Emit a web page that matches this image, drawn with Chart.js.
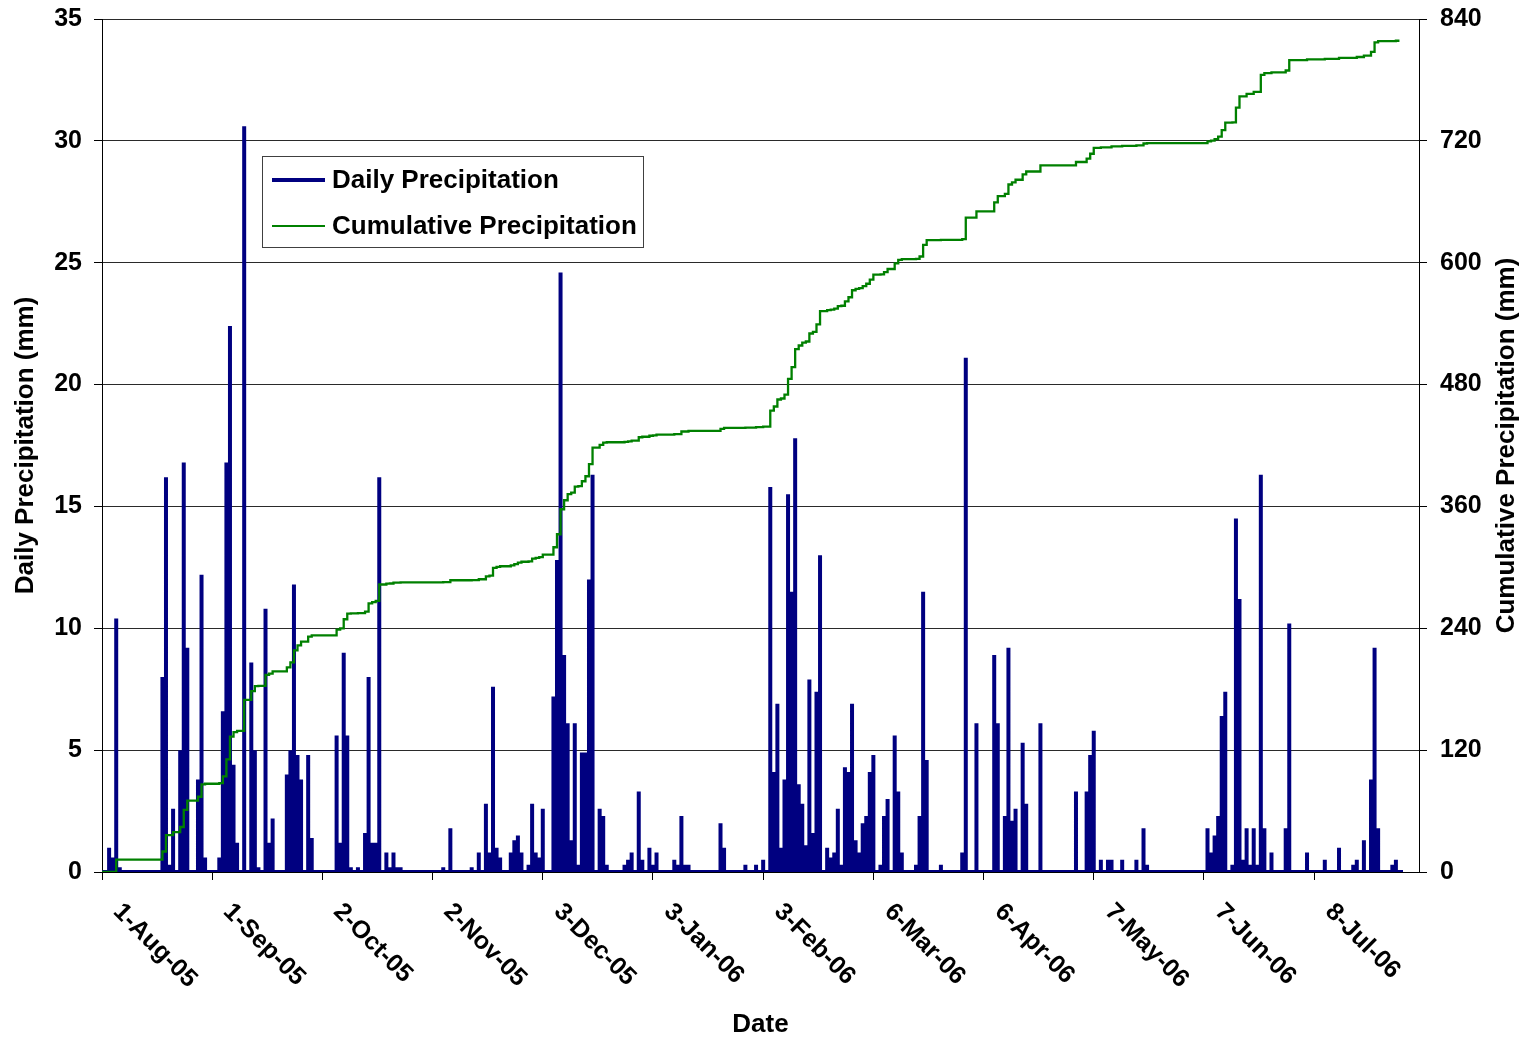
<!DOCTYPE html>
<html>
<head>
<meta charset="utf-8">
<title>Daily and Cumulative Precipitation</title>
<script src="https://cdn.jsdelivr.net/npm/chart.js@4.4.1/dist/chart.umd.min.js"></script>
<style>
  html, body { margin: 0; padding: 0; background: #ffffff; }
  #chart-container { position: relative; width: 1529px; height: 1041px; }
</style>
</head>
<body>
<div id="chart-container"><canvas id="rainChart"></canvas></div>
<script>
// Day 0 is 1-Aug-05; axis labels every 31 days
const tickLabels = ['1-Aug-05', '1-Sep-05', '2-Oct-05', '2-Nov-05', '3-Dec-05', '3-Jan-06',
                    '3-Feb-06', '6-Mar-06', '6-Apr-06', '7-May-06', '7-Jun-06', '8-Jul-06'];
const tickStep = 31;
const lastDay = 366;

// wet days only: [day, mm]; every other day is 0
const dailyRain = [
  [2, 1.0], [3, 0.6], [4, 10.4], [5, 0.2], [17, 8.0], [18, 16.2], [19, 0.3], [20, 2.6],
  [22, 5.0], [23, 16.8], [24, 9.2], [27, 3.8], [28, 12.2], [29, 0.6], [33, 0.6], [34, 6.6],
  [35, 16.8], [36, 22.4], [37, 4.4], [38, 1.2], [40, 30.6], [42, 8.6], [43, 5.0], [44, 0.2],
  [46, 10.8], [47, 1.2], [48, 2.2], [52, 4.0], [53, 5.0], [54, 11.8], [55, 4.8], [56, 3.8],
  [58, 4.8], [59, 1.4], [66, 5.6], [67, 1.2], [68, 9.0], [69, 5.6], [70, 0.2], [72, 0.2],
  [74, 1.6], [75, 8.0], [76, 1.2], [77, 1.2], [78, 16.2], [80, 0.8], [81, 0.2], [82, 0.8],
  [83, 0.2], [84, 0.2], [96, 0.2], [98, 1.8], [104, 0.2], [106, 0.8], [108, 2.8], [109, 0.8],
  [110, 7.6], [111, 1.0], [112, 0.6], [115, 0.8], [116, 1.3], [117, 1.5], [118, 0.8], [120, 0.3],
  [121, 2.8], [122, 0.8], [123, 0.6], [124, 2.6], [127, 7.2], [128, 12.8], [129, 24.6], [130, 8.9],
  [131, 6.1], [132, 1.3], [133, 6.1], [134, 0.3], [135, 4.9], [136, 4.9], [137, 12.0], [138, 16.3],
  [140, 2.6], [141, 2.3], [142, 0.3], [147, 0.3], [148, 0.5], [149, 0.8], [151, 3.3], [152, 0.5],
  [154, 1.0], [155, 0.3], [156, 0.8], [161, 0.5], [162, 0.3], [163, 2.3], [164, 0.3], [165, 0.3],
  [174, 2.0], [175, 1.0], [181, 0.3], [184, 0.3], [186, 0.5], [188, 15.8], [189, 4.1], [190, 6.9],
  [191, 1.0], [192, 3.8], [193, 15.5], [194, 11.5], [195, 17.8], [196, 3.6], [197, 2.8], [198, 1.1],
  [199, 7.9], [200, 1.6], [201, 7.4], [202, 13.0], [204, 1.0], [205, 0.6], [206, 0.8], [207, 2.6],
  [208, 0.3], [209, 4.3], [210, 4.1], [211, 6.9], [212, 1.3], [213, 0.8], [214, 2.0], [215, 2.3],
  [216, 4.1], [217, 4.8], [219, 0.3], [220, 2.3], [221, 3.0], [223, 5.6], [224, 3.3], [225, 0.8],
  [229, 0.3], [230, 2.3], [231, 11.5], [232, 4.6], [236, 0.3], [242, 0.8], [243, 21.1], [246, 6.1],
  [251, 8.9], [252, 6.1], [254, 2.3], [255, 9.2], [256, 2.1], [257, 2.6], [259, 5.3], [260, 2.8],
  [264, 6.1], [274, 3.3], [277, 3.3], [278, 4.8], [279, 5.8], [281, 0.5], [283, 0.5], [284, 0.5],
  [287, 0.5], [291, 0.5], [293, 1.8], [294, 0.3], [311, 1.8], [312, 0.8], [313, 1.5], [314, 2.3],
  [315, 6.4], [316, 7.4], [318, 0.3], [319, 14.5], [320, 11.2], [321, 0.5], [322, 1.8], [323, 0.3],
  [324, 1.8], [325, 0.3], [326, 16.3], [327, 1.8], [329, 0.8], [333, 1.8], [334, 10.2], [339, 0.8],
  [344, 0.5], [348, 1.0], [352, 0.3], [353, 0.5], [355, 1.3], [357, 3.8], [358, 9.2], [359, 1.8],
  [363, 0.3], [364, 0.5]
];

// running total read at each step: [day, mm]
const cumulativeRain = [
  [0, 0], [4, 12.2], [17, 20.2], [18, 36.4], [20, 39.3], [22, 44.3], [23, 61.1], [24, 70.3],
  [27, 74.1], [28, 86.3], [29, 86.9], [33, 87.5], [34, 94.1], [35, 110.9], [36, 133.3], [37, 137.7],
  [38, 138.9], [40, 169.5], [42, 178.1], [43, 183.1], [44, 183.3], [46, 194.1], [47, 195.3], [48, 197.5],
  [52, 201.5], [53, 206.5], [54, 218.3], [55, 223.1], [56, 226.9], [58, 231.7], [59, 233.1], [66, 238.7],
  [67, 239.9], [68, 248.9], [69, 254.5], [70, 254.7], [72, 254.9], [74, 256.5], [75, 264.5], [76, 265.7],
  [77, 266.9], [78, 283.1], [80, 283.9], [81, 284.1], [82, 284.9], [84, 285.3], [96, 285.5], [98, 287.3],
  [104, 287.5], [106, 288.3], [108, 291.1], [109, 291.9], [110, 299.5], [111, 300.5], [112, 301.1], [115, 301.9],
  [116, 303.2], [117, 304.7], [118, 305.5], [120, 305.8], [121, 308.6], [122, 309.4], [123, 310.0], [124, 312.6],
  [127, 319.8], [128, 332.6], [129, 357.2], [130, 366.1], [131, 372.2], [132, 373.5], [133, 379.6], [134, 379.9],
  [135, 384.8], [136, 389.7], [137, 401.7], [138, 418.0], [140, 420.6], [141, 422.9], [142, 423.2], [147, 423.5],
  [148, 424.0], [149, 424.8], [151, 428.1], [152, 428.6], [154, 429.6], [155, 429.9], [156, 430.7], [161, 431.2],
  [163, 433.8], [165, 434.4], [174, 436.4], [175, 437.4], [181, 437.7], [184, 438.0], [186, 438.5], [188, 454.3],
  [189, 458.4], [190, 465.3], [191, 466.3], [192, 470.1], [193, 485.6], [194, 497.1], [195, 514.9], [196, 518.5],
  [197, 521.3], [198, 522.4], [199, 530.3], [200, 531.9], [201, 539.3], [202, 552.3], [204, 553.3], [205, 553.9],
  [206, 554.7], [207, 557.3], [208, 557.6], [209, 561.9], [210, 566.0], [211, 572.9], [212, 574.2], [213, 575.0],
  [214, 577.0], [215, 579.3], [216, 583.4], [217, 588.2], [219, 588.5], [220, 590.8], [221, 593.8], [223, 599.4],
  [224, 602.7], [225, 603.5], [229, 603.8], [230, 606.1], [231, 617.6], [232, 622.2], [236, 622.5], [242, 623.3],
  [243, 644.4], [246, 650.5], [251, 659.4], [252, 665.5], [254, 667.8], [255, 677.0], [256, 679.1], [257, 681.7],
  [259, 687.0], [260, 689.8], [264, 695.9], [274, 699.2], [277, 702.5], [278, 707.3], [279, 713.1], [281, 713.6],
  [284, 714.6], [287, 715.1], [291, 715.6], [293, 717.4], [294, 717.7], [311, 719.5], [312, 720.3], [313, 721.8],
  [314, 724.1], [315, 730.5], [316, 737.9], [318, 738.2], [319, 752.7], [320, 763.9], [322, 766.2], [324, 768.3],
  [326, 784.9], [327, 786.7], [329, 787.5], [333, 789.3], [334, 799.5], [339, 800.3], [344, 800.8], [348, 801.8],
  [353, 802.6], [355, 803.9], [357, 807.7], [358, 816.9], [359, 818.3], [364, 818.6], [365, 818.6]
];

const FONT_FAMILY = '"Liberation Sans", Arial, sans-serif';
const NAVY = '#000080';
const GREEN = '#008000';

// each wet day becomes a vertical stroke up from the zero line
const rainByDay = new Map(dailyRain);
const dailyPoints = [];
for (let d = 0; d <= lastDay; d++) {
    const mm = rainByDay.get(d) || 0;
    if (mm > 0) {
        dailyPoints.push({ x: d, y: 0 }, { x: d, y: mm }, { x: d, y: 0 });
    } else {
        dailyPoints.push({ x: d, y: 0 });
    }
}

// rotated date labels, axis titles and the boxed legend
const decorations = {
    id: 'decorations',
    afterDraw(chart) {
        const { ctx, chartArea, scales } = chart;
        ctx.save();
        ctx.fillStyle = '#000';

        // date labels slanting down to the right
        ctx.font = 'bold 25px ' + FONT_FAMILY;
        ctx.textAlign = 'left';
        ctx.textBaseline = 'middle';
        tickLabels.forEach((label, i) => {
            const px = scales.x.getPixelForValue(i * tickStep);
            ctx.save();
            ctx.translate(px + 15, chartArea.bottom + 36);
            ctx.rotate(Math.PI / 4);
            ctx.fillText(label, 0, 0);
            ctx.restore();
        });

        // axis titles
        ctx.font = 'bold 26px ' + FONT_FAMILY;
        ctx.textAlign = 'center';
        ctx.fillText('Date', (chartArea.left + chartArea.right) / 2, 1025);
        const midY = (chartArea.top + chartArea.bottom) / 2;
        [[26, 'Daily Precipitation (mm)'], [1507, 'Cumulative Precipitation (mm)']].forEach(([tx, text]) => {
            ctx.save();
            ctx.translate(tx, midY);
            ctx.rotate(-Math.PI / 2);
            ctx.fillText(text, 0, 0);
            ctx.restore();
        });

        // legend box
        ctx.fillStyle = '#fff';
        ctx.fillRect(262, 156, 381, 91);
        ctx.strokeStyle = '#404040';
        ctx.lineWidth = 1;
        ctx.strokeRect(262.5, 156.5, 381, 91);
        const items = [
            { label: 'Daily Precipitation', color: NAVY, width: 4, y: 180 },
            { label: 'Cumulative Precipitation', color: GREEN, width: 2, y: 226 }
        ];
        ctx.textAlign = 'left';
        items.forEach(item => {
            ctx.strokeStyle = item.color;
            ctx.lineWidth = item.width;
            ctx.beginPath();
            ctx.moveTo(272, item.y);
            ctx.lineTo(325, item.y);
            ctx.stroke();
            ctx.fillStyle = '#000';
            ctx.fillText(item.label, 332, item.y + 1);
        });
        ctx.restore();
    }
};

const tickFont = { family: FONT_FAMILY, size: 25, weight: 'bold' };

// fixed axis box sizes so the plot area sits where the layout needs it
function fitVertical(width) {
    return scale => {
        scale.width = width;
        scale.paddingTop = 0;
        scale.paddingBottom = 0;
    };
}

new Chart(document.getElementById('rainChart'), {
    type: 'line',
    data: {
        datasets: [
            {
                label: 'Cumulative Precipitation',
                data: cumulativeRain.map(([d, mm]) => ({ x: d, y: mm })),
                yAxisID: 'yCum',
                borderColor: GREEN,
                borderWidth: 2.3,
                pointRadius: 0,
                stepped: 'before',
                order: 1
            },
            {
                label: 'Daily Precipitation',
                data: dailyPoints,
                yAxisID: 'yDaily',
                borderColor: NAVY,
                borderWidth: 4,
                borderCapStyle: 'butt',
                borderJoinStyle: 'miter',
                pointRadius: 0,
                tension: 0,
                order: 2
            }
        ]
    },
    options: {
        responsive: true,
        maintainAspectRatio: false,
        animation: false,
        events: [],
        layout: { padding: { top: 19, right: 0, bottom: 0, left: 0 } },
        plugins: {
            legend: { display: false },
            tooltip: { enabled: false }
        },
        scales: {
            x: {
                type: 'linear',
                min: 0,
                max: 370.5,
                afterBuildTicks: scale => {
                    scale.ticks = tickLabels.map((_, i) => ({ value: i * tickStep }));
                },
                afterFit: scale => {
                    scale.height = 169;
                    scale.paddingLeft = 0;
                    scale.paddingRight = 0;
                },
                ticks: { display: false },
                grid: { drawOnChartArea: false, drawTicks: true, tickLength: 8, color: '#000' },
                border: { color: '#000', width: 1 }
            },
            yDaily: {
                type: 'linear',
                position: 'left',
                min: 0,
                max: 35,
                afterFit: fitVertical(102),
                ticks: { stepSize: 5, padding: 12, color: '#000', font: tickFont },
                grid: { color: '#2a2a2a', tickColor: '#000', tickLength: 8 },
                border: { color: '#000', width: 1 }
            },
            yCum: {
                type: 'linear',
                position: 'right',
                min: 0,
                max: 840,
                afterFit: fitVertical(110),
                ticks: { stepSize: 120, padding: 13, color: '#000', font: tickFont },
                grid: { drawOnChartArea: false, color: '#000', tickLength: 8 },
                border: { color: '#000', width: 1 }
            }
        }
    },
    plugins: [decorations]
});
</script>
</body>
</html>
